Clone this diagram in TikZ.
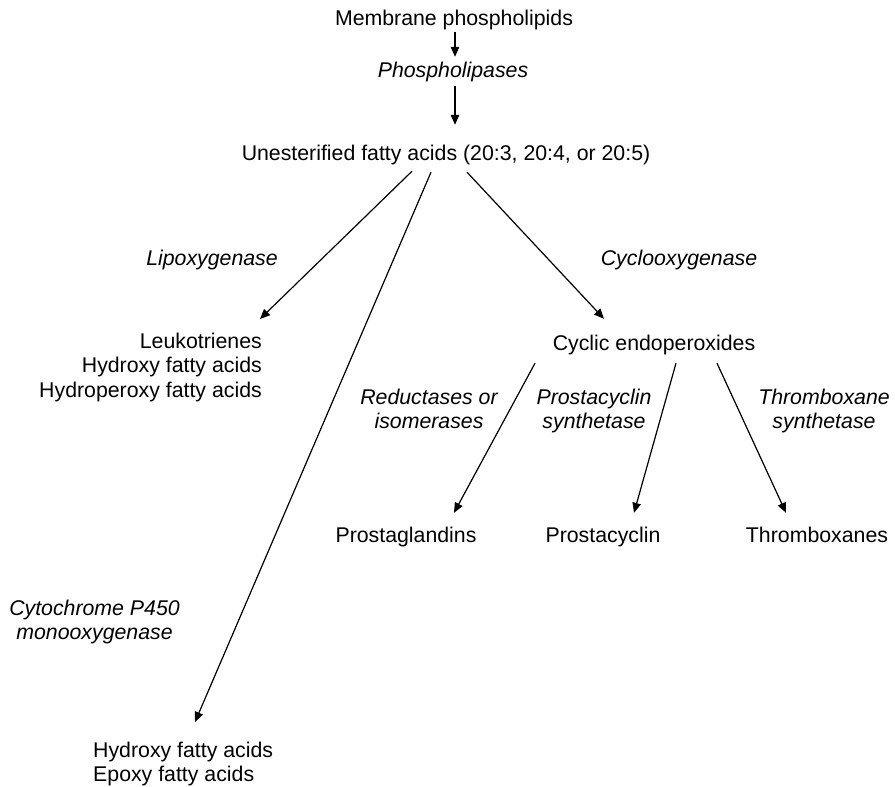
\documentclass[tikz,border=0pt]{standalone}
\usepackage{fontspec}
\setmainfont{Liberation Sans}
\usetikzlibrary{arrows.meta,calc}
\begin{document}
\begin{tikzpicture}[x=1pt,y=-1pt,
  every node/.style={inner sep=0pt, font=\fontsize{21.3}{24.5}\selectfont},
  lbl/.style={text height=15.5pt, text depth=4.5pt, anchor=base},
  enz/.style={font=\fontsize{21.3}{24.5}\selectfont\itshape},
  arr/.style={line width=1.2pt, -{Triangle[length=10pt,width=8.5pt]}}
]
\useasboundingbox (0,0) rectangle (895,787);

% substrates and products
\node[lbl] (mem) at (454,25) {Membrane phospholipids};
\node[lbl] (ufa) at (446,160) {Unesterified fatty acids (20:3, 20:4, or 20:5)};
\node[anchor=north east, align=right] (leuk) at (262,330.85)
  {\strut Leukotrienes\\Hydroxy fatty acids\\Hydroperoxy fatty acids};
\node[lbl] (cyc) at (654,350) {Cyclic endoperoxides};
\node[lbl] (pg) at (406,542) {Prostaglandins};
\node[lbl] (pc) at (603,542) {Prostacyclin};
\node[lbl] (tx) at (817,542) {Thromboxanes};
\node[anchor=north west, align=left] (hfa) at (93,739.85)
  {\strut Hydroxy fatty acids\\Epoxy fatty acids};

% enzymes
\node[lbl,enz] (pl) at (453,77) {Phospholipases};
\node[lbl,enz] (lox) at (212,265) {Lipoxygenase};
\node[lbl,enz] (cox) at (679,265) {Cyclooxygenase};
\node[anchor=north, align=center, enz] (red) at (429,386.85)
  {\strut Reductases or\\isomerases};
\node[anchor=north, align=center, enz] (pcs) at (594,386.85)
  {\strut Prostacyclin\\synthetase};
\node[anchor=north, align=center, enz] (txs) at (824,386.85)
  {\strut Thromboxane\\synthetase};
\node[anchor=north, align=center, enz] (cyp) at (94.5,597.85)
  {\strut Cytochrome P450\\monooxygenase};

% reactions
\draw[arr] ($(mem.south)+(1,2.5)$) -- ($(pl.north)+(2,-4.5)$);
\draw[arr] ($(pl.south)+(2,4.5)$) -- ($(ufa.north)+(9,-19.5)$);
\draw[arr] ($(ufa.south)+(-34,6.5)$) -- ($(leuk.north east)+(-2,-11.85)$);
\draw[arr] ($(ufa.south)+(-15,7.5)$) -- ($(hfa.north west)+(102,-17.85)$);
\draw[arr] ($(ufa.south)+(21,7.5)$) -- ($(cyc.north)+(-50,-15.5)$);
\draw[arr] ($(cyc.south)+(-119,8.5)$) -- ($(pg.north)+(48,-13.5)$);
\draw[arr] ($(cyc.south)+(22,8.5)$) -- ($(pc.north)+(31,-13.5)$);
\draw[arr] ($(cyc.south)+(63,8.5)$) -- ($(tx.north)+(-31,-13.5)$);
\end{tikzpicture}
\end{document}
